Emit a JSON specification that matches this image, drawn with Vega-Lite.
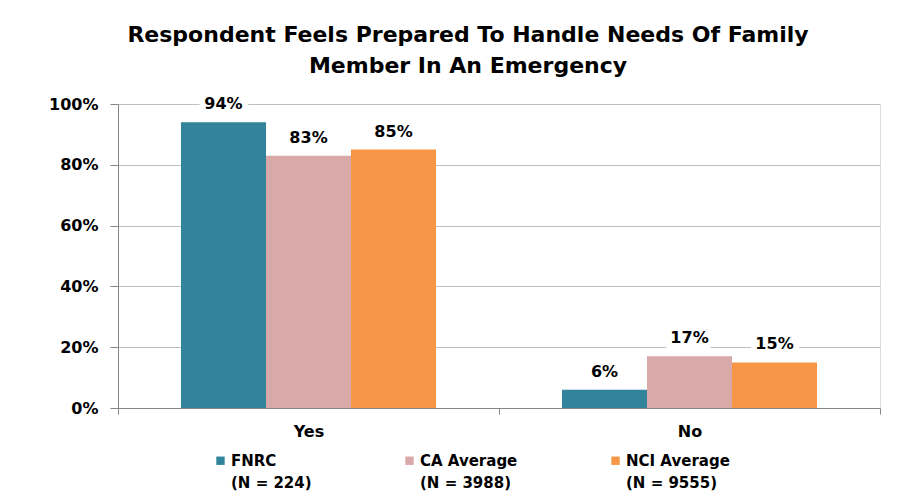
{
  "$schema": "https://vega.github.io/schema/vega-lite/v6.json",
  "width": 762,
  "height": 304,
  "autosize": {"type": "none"},
  "padding": {"left": 118, "top": 104, "right": 41, "bottom": 91},
  "background": "white",
  "config": {"style": {"guide-label": {"lineHeight": 22}}},
  "title": {
    "text": ["Respondent Feels Prepared To Handle Needs Of Family", "Member In An Emergency"],
    "font": "DejaVu Sans",
    "fontSize": 22,
    "fontWeight": "bold",
    "color": "#000000",
    "lineHeight": 31,
    "anchor": "middle",
    "dx": -31,
    "offset": 18
  },
  "data": {
    "values": [
      {"answer": "Yes", "group": "FNRC", "pct": 0.94},
      {"answer": "Yes", "group": "CA Average", "pct": 0.83},
      {"answer": "Yes", "group": "NCI Average", "pct": 0.85},
      {"answer": "No", "group": "FNRC", "pct": 0.06},
      {"answer": "No", "group": "CA Average", "pct": 0.17},
      {"answer": "No", "group": "NCI Average", "pct": 0.15}
    ]
  },
  "encoding": {
    "x": {
      "field": "answer",
      "type": "nominal",
      "sort": ["Yes", "No"],
      "scale": {"paddingInner": 0, "paddingOuter": 0},
      "axis": {
        "title": null,
        "labelAngle": 0,
        "labelFont": "DejaVu Sans",
        "labelFontWeight": "bold",
        "labelFontSize": 16,
        "labelColor": "#000000",
        "labelPadding": 9,
        "tickBand": "extent",
        "ticks": true,
        "tickSize": 6,
        "tickColor": "#868686",
        "domainColor": "#868686",
        "grid": false
      }
    },
    "xOffset": {
      "field": "group",
      "type": "nominal",
      "sort": ["FNRC", "CA Average", "NCI Average"],
      "scale": {"paddingInner": 0, "paddingOuter": 0.741}
    },
    "y": {
      "field": "pct",
      "type": "quantitative",
      "scale": {"domain": [0, 1]},
      "axis": {
        "title": null,
        "values": [0, 0.2, 0.4, 0.6, 0.8, 1],
        "format": ".0%",
        "labelFont": "DejaVu Sans",
        "labelFontWeight": "bold",
        "labelFontSize": 16,
        "labelColor": "#000000",
        "labelPadding": 12,
        "tickSize": 8,
        "tickColor": "#868686",
        "domainColor": "#868686",
        "grid": true,
        "gridColor": "#bfbfbf"
      }
    }
  },
  "layer": [
    {
      "mark": {"type": "bar"},
      "encoding": {
        "color": {
          "field": "group",
          "type": "nominal",
          "sort": ["FNRC", "CA Average", "NCI Average"],
          "scale": {
            "domain": ["FNRC", "CA Average", "NCI Average"],
            "range": ["#31849B", "#D9A9A9", "#F79646"]
          },
          "legend": {
            "title": null,
            "orient": "none",
            "legendX": 95,
            "legendY": 349,
            "direction": "horizontal",
            "columns": 3,
            "columnPadding": 90,
            "symbolType": "square",
            "symbolSize": 70,
            "symbolStrokeWidth": 0,
            "labelFont": "DejaVu Sans",
            "labelFontWeight": "bold",
            "labelFontSize": 15,
            "labelColor": "#000000",
            "labelOffset": 3,
            "labelLimit": 300,
            "labelExpr": "datum.label == 'FNRC' ? ['FNRC', '(N = 224)'] : datum.label == 'CA Average' ? ['CA Average', '(N = 3988)'] : ['NCI Average', '(N = 9555)']"
          }
        }
      }
    },
    {
      "mark": {"type": "text", "font": "DejaVu Sans", "fontWeight": "bold", "fontSize": 16, "dy": -18, "stroke": "white", "strokeWidth": 12, "strokeJoin": "miter", "color": "white"},
      "encoding": {"text": {"field": "pct", "type": "quantitative", "format": ".0%"}}
    },
    {
      "mark": {"type": "text", "font": "DejaVu Sans", "fontWeight": "bold", "fontSize": 16, "dy": -18, "color": "#000000"},
      "encoding": {"text": {"field": "pct", "type": "quantitative", "format": ".0%"}}
    }
  ]
}
